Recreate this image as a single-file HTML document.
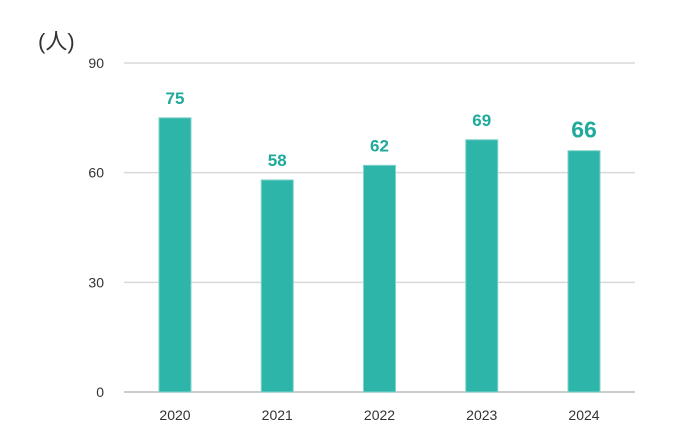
<!DOCTYPE html>
<html><head><meta charset="utf-8"><style>
body{margin:0;background:#fff;}
svg{display:block;font-family:"Liberation Sans","Noto Sans CJK JP",sans-serif;}
</style></head><body>
<svg width="690" height="440" viewBox="0 0 690 440">
<text x="38" y="49" font-size="22" fill="#333">(人)</text>
<g id="grid"></g><g id="bars"></g><g id="labels"></g>
</svg>
<script>
const categories=["2020","2021","2022","2023","2024"];
const values=[75,58,62,69,66];
const yTicks=[0,30,60,90];
const ns="http://www.w3.org/2000/svg";
const y=v=>392-v*(329/90);
const x=i=>175+i*102.25;
const svg=document.querySelector('svg');
function mk(t,a,p){const e=document.createElementNS(ns,t);for(const k in a)e.setAttribute(k,a[k]);p.appendChild(e);return e;}
const grid=document.getElementById('grid');
yTicks.forEach(t=>{
  const l=mk('line',{x1:124,x2:635,y1:y(t),y2:y(t),stroke:t===0?'#bbb':'#d9d9d9','stroke-width':1.5},grid);
  
  
  const tx=mk('text',{x:104,y:y(t)+5,'font-size':14,fill:'#333','text-anchor':'end'},grid);
  tx.textContent=t;
  
  
});
const bars=document.getElementById('bars');
categories.forEach((c,i)=>{
  const v=values[i];
  const r=mk('rect',{x:x(i)-16,y:y(v),width:32,height:y(0)-y(v),fill:'#2cb5a8',stroke:'#7fd3ca','stroke-width':1},bars);
  
  
  const big=i===categories.length-1;
  const t=mk('text',{x:x(i),y:y(v)-(big?13:14),'font-size':big?23:17,'font-weight':'bold',fill:'#1faa9b','text-anchor':'middle'},bars);
  t.textContent=v;
  
  
  const xl=mk('text',{x:x(i),y:420,'font-size':14,fill:'#333','text-anchor':'middle'},bars);
  xl.textContent=c;
  
  
});
</script>
</body></html>
